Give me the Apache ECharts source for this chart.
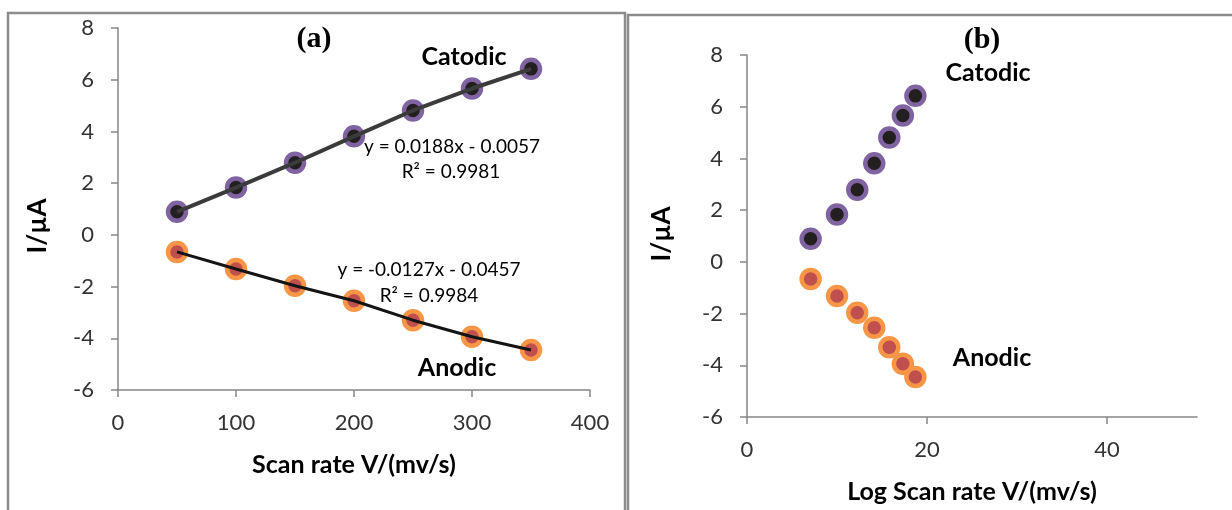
<!DOCTYPE html>
<html>
<head>
<meta charset="utf-8">
<title>Scan rate</title>
<script src="https://cdn.jsdelivr.net/npm/echarts@6/dist/echarts.min.js"></script>
<style>
  html, body { margin: 0; padding: 0; background: #fff; }
  #chart { width: 1232px; height: 510px; }
</style>
</head>
<body>
<div id="chart"></div>
<script>
// scan rate (mv/s) for panel (a)
const scanRate = [50, 100, 150, 200, 250, 300, 350];
// x values
const logRate = [7.07, 10.0, 12.25, 14.14, 15.81, 17.32, 18.71];
// peak currents, I/µA
const catodic = [0.89, 1.83, 2.79, 3.81, 4.81, 5.66, 6.42];
const anodic = [-0.66, -1.32, -1.97, -2.55, -3.30, -3.94, -4.45];
// tick labels
const xTicksA = [0, 100, 200, 300, 400];
const xTicksB = [0, 20, 40];
const yTicks = [-6, -4, -2, 0, 2, 4, 6, 8];

const FONT = "Lato, 'Open Sans', sans-serif";
const axisGrey = "#868686";
const purple = "#8064a2";
const orange = "#f79646";

const pairs = (xs, ys) => xs.map((x, i) => [x, ys[i]]);

const xAxisBase = (min, max, ticks, name) => ({
  type: "value",
  min: min,
  max: max,
  name: name,
  nameLocation: "middle",
  nameGap: 62,
  nameTextStyle: { fontFamily: FONT, fontWeight: "bold", fontSize: 25, color: "#000" },
  axisLine: { onZero: false, lineStyle: { color: axisGrey, width: 1.5 } },
  axisTick: { customValues: ticks, length: 7, lineStyle: { color: axisGrey, width: 1.5 } },
  axisLabel: { customValues: ticks, margin: 22, fontFamily: FONT, fontSize: 22, color: "#333" },
  splitLine: { show: false },
});

const yAxisBase = () => ({
  type: "value",
  min: -6,
  max: 8,
  axisLine: { onZero: false, lineStyle: { color: axisGrey, width: 1.5 } },
  axisTick: { customValues: yTicks, length: 7, lineStyle: { color: axisGrey, width: 1.5 } },
  axisLabel: { customValues: yTicks, margin: 24, fontFamily: FONT, fontSize: 22, color: "#333" },
  splitLine: { show: false },
});

const dots = (idx, data, inner, outer) => ({
  type: "scatter",
  xAxisIndex: idx,
  yAxisIndex: idx,
  data: data,
  symbolSize: 18,
  z: 3,
  itemStyle: { color: inner, borderColor: outer, borderWidth: 4.5, opacity: 1 },
});

const joinLine = (data, color, width) => ({
  type: "line",
  xAxisIndex: 0,
  yAxisIndex: 0,
  data: data,
  showSymbol: false,
  z: 4,
  silent: true,
  lineStyle: { color: color, width: width },
});

const label = (text, x, y, size, weight, family) => ({
  type: "text",
  x: x,
  y: y,
  style: {
    text: text,
    fill: "#000",
    font: (weight || "normal") + " " + size + "px " + (family || FONT),
    align: "center",
    verticalAlign: "middle",
  },
});

const yName = (x, y) => ({
  type: "text",
  x: x,
  y: y,
  rotation: Math.PI / 2,
  style: {
    text: "I/µA",
    fill: "#000",
    font: "bold 26px " + FONT,
    align: "center",
    verticalAlign: "middle",
  },
});

const frameStyle = { stroke: "#8c8c8c", lineWidth: 2.5, fill: null };

const chart = echarts.init(document.getElementById("chart"));
chart.setOption({
  animation: false,
  backgroundColor: "#fff",
  grid: [
    { left: 118, top: 28, width: 472, height: 362 },
    { left: 747, top: 55, width: 450, height: 362 },
  ],
  xAxis: [
    xAxisBase(0, 400, xTicksA, "Scan rate V/(mv/s)"),
    Object.assign(xAxisBase(0, 50, xTicksB, "Log Scan rate V/(mv/s)"), { gridIndex: 1 }),
  ],
  yAxis: [yAxisBase(), Object.assign(yAxisBase(), { gridIndex: 1 })],
  series: [
    dots(0, pairs(scanRate, catodic), "#231f20", purple),
    dots(0, pairs(scanRate, anodic), "#c0504d", orange),
    joinLine(pairs(scanRate, catodic), "#3b3b3b", 4),
    joinLine(pairs(scanRate, anodic), "#141414", 3),
    dots(1, pairs(logRate, catodic), "#231f20", purple),
    dots(1, pairs(logRate, anodic), "#c0504d", orange),
  ],
  graphic: [
    { type: "polyline", shape: { points: [[8, 510], [8, 13], [625, 13], [625, 510]] }, style: frameStyle },
    { type: "polyline", shape: { points: [[628, 510], [628, 15], [1232, 15]] }, style: frameStyle },
    label("(a)", 314, 39, 30, "bold", "'Liberation Serif', serif"),
    label("(b)", 982, 40, 30, "bold", "'Liberation Serif', serif"),
    label("Catodic", 464, 57, 25, "bold"),
    label("Anodic", 457, 368, 25, "bold"),
    label("Catodic", 988, 73, 25, "bold"),
    label("Anodic", 992, 358, 25, "bold"),
    label("y = 0.0188x - 0.0057", 452, 147, 19),
    label("R² = 0.9981", 451, 172, 19),
    label("y = -0.0127x - 0.0457", 429, 270, 19),
    label("R² = 0.9984", 429, 296, 19),
    yName(38, 226),
    yName(662, 234),
  ],
});
</script>
</body>
</html>
